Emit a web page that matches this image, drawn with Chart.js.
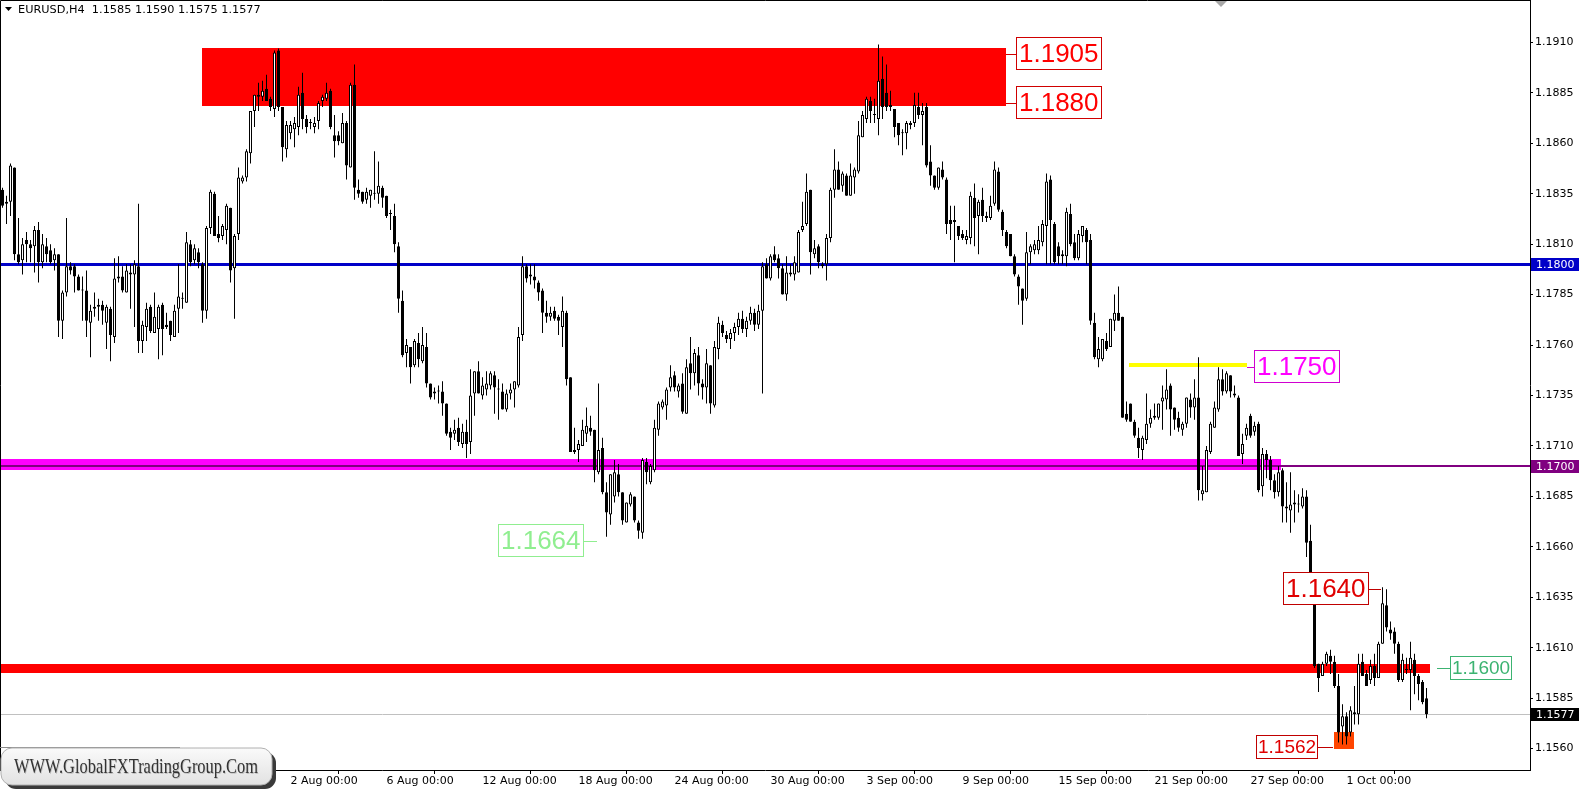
<!DOCTYPE html>
<html>
<head>
<meta charset="utf-8">
<title>EURUSD,H4</title>
<script src="https://cdn.jsdelivr.net/npm/chart.js@4.4.1/dist/chart.umd.min.js"></script>
<style>
  html, body { margin: 0; padding: 0; background: #fff; }
  canvas { display: block; }
</style>
</head>
<body>
<canvas id="chart" width="1582" height="792"></canvas>
<script>
"use strict"

// H4 bars, oldest first. Index 72 is 2 Aug 00:00, index 336 is 1 Oct 00:00.
const opens = [
  1.1837, 1.1830, 1.1831, 1.1848, 1.1805, 1.1802, 1.1812, 1.1810, 1.1809, 1.1817,
  1.1801, 1.1809, 1.1807, 1.1802, 1.1805, 1.1772, 1.1786, 1.1799, 1.1799, 1.1794,
  1.1787, 1.1787, 1.1771, 1.1778, 1.1780, 1.1780, 1.1771, 1.1778, 1.1764, 1.1794,
  1.1794, 1.1786, 1.1796, 1.1795, 1.1799, 1.1762, 1.1769, 1.1779, 1.1766, 1.1768,
  1.1780, 1.1770, 1.1772, 1.1764, 1.1778, 1.1783, 1.1781, 1.1810, 1.1802, 1.1806,
  1.1800, 1.1777, 1.1818, 1.1835, 1.1815, 1.1814, 1.1817, 1.1828, 1.1798, 1.1815,
  1.1841, 1.1843, 1.1855, 1.1876, 1.1883, 1.1883, 1.1887, 1.1882, 1.1877, 1.1906,
  1.1878, 1.1857, 1.1865, 1.1867, 1.1868, 1.1885, 1.1872, 1.1870, 1.1868, 1.1871,
  1.1881, 1.1882, 1.1886, 1.1864, 1.1864, 1.1860, 1.1870, 1.1848, 1.1889, 1.1837,
  1.1836, 1.1832, 1.1834, 1.1835, 1.1835, 1.1838, 1.1834, 1.1825, 1.1824, 1.1809,
  1.1782, 1.1756, 1.1759, 1.1750, 1.1761, 1.1752, 1.1759, 1.1741, 1.1736, 1.1737,
  1.1737, 1.1731, 1.1717, 1.1716, 1.1719, 1.1711, 1.1717, 1.1712, 1.1736, 1.1747,
  1.1735, 1.1738, 1.1740, 1.1745, 1.1738, 1.1737, 1.1728, 1.1736, 1.1738, 1.1740,
  1.1765, 1.1799, 1.1794, 1.1794, 1.1791, 1.1787, 1.1776, 1.1774, 1.1777, 1.1774,
  1.1769, 1.1776, 1.1744, 1.1707, 1.1708, 1.1710, 1.1716, 1.1719, 1.1718, 1.1697,
  1.1709, 1.1687, 1.1676, 1.1685, 1.1696, 1.1687, 1.1672, 1.1681, 1.1685, 1.1672,
  1.1667, 1.1702, 1.1692, 1.1698, 1.1718, 1.1729, 1.1730, 1.1739, 1.1745, 1.1737,
  1.1741, 1.1726, 1.1751, 1.1746, 1.1755, 1.1741, 1.1739, 1.1750, 1.1730, 1.1758,
  1.1770, 1.1765, 1.1763, 1.1766, 1.1769, 1.1773, 1.1768, 1.1772, 1.1776, 1.1770,
  1.1777, 1.1800, 1.1793, 1.1805, 1.1803, 1.1798, 1.1785, 1.1796, 1.1795, 1.1796,
  1.1817, 1.1820, 1.1837, 1.1805, 1.1809, 1.1800, 1.1800, 1.1813, 1.1837, 1.1847,
  1.1839, 1.1844, 1.1834, 1.1843, 1.1846, 1.1863, 1.1872, 1.1881, 1.1874, 1.1872,
  1.1892, 1.1885, 1.1879, 1.1877, 1.1870, 1.1865, 1.1865, 1.1869, 1.1870, 1.1878,
  1.1874, 1.1878, 1.1851, 1.1844, 1.1838, 1.1847, 1.1842, 1.1822, 1.1821, 1.1819,
  1.1815, 1.1812, 1.1813, 1.1833, 1.1824, 1.1832, 1.1823, 1.1823, 1.1830, 1.1846,
  1.1826, 1.1816, 1.1815, 1.1804, 1.1794, 1.1788, 1.1783, 1.1806, 1.1807, 1.1807,
  1.1811, 1.1819, 1.1842, 1.1820, 1.1809, 1.1804, 1.1804, 1.1825, 1.1811, 1.1803,
  1.1814, 1.1817, 1.1812, 1.1771, 1.1753, 1.1753, 1.1762, 1.1759, 1.1772, 1.1776,
  1.1774, 1.1726, 1.1731, 1.1722, 1.1714, 1.1708, 1.1713, 1.1721, 1.1724, 1.1724,
  1.1732, 1.1733, 1.1740, 1.1729, 1.1724, 1.1718, 1.1721, 1.1733, 1.1729, 1.1734,
  1.1686, 1.1687, 1.1707, 1.1719, 1.1728, 1.1743, 1.1737, 1.1745, 1.1736, 1.1734,
  1.1706, 1.1715, 1.1725, 1.1717, 1.1721, 1.1690, 1.1706, 1.1703, 1.1693, 1.1687,
  1.1698, 1.1680, 1.1678, 1.1681, 1.1681, 1.1680, 1.1685, 1.1663, 1.1645, 1.1602,
  1.1596, 1.1602, 1.1606, 1.1603, 1.1591, 1.1571, 1.1576, 1.1568, 1.1577, 1.1577,
  1.1603, 1.1597, 1.1594, 1.1601, 1.1595, 1.1612, 1.1631, 1.1619, 1.1618, 1.1612,
  1.1594, 1.1599, 1.1599, 1.1604, 1.1596, 1.1593, 1.1585
];

const highs = [
  1.1838, 1.1834, 1.1850, 1.1848, 1.1823, 1.1813, 1.1816, 1.1812, 1.1819, 1.1821,
  1.1815, 1.1813, 1.1810, 1.1808, 1.1805, 1.1787, 1.1823, 1.1801, 1.1800, 1.1795,
  1.1794, 1.1797, 1.1780, 1.1786, 1.1783, 1.1782, 1.1780, 1.1779, 1.1803, 1.1804,
  1.1799, 1.1800, 1.1800, 1.1802, 1.1830, 1.1772, 1.1781, 1.1780, 1.1786, 1.1780,
  1.1781, 1.1776, 1.1772, 1.1780, 1.1800, 1.1786, 1.1816, 1.1812, 1.1810, 1.1808,
  1.1801, 1.1819, 1.1837, 1.1836, 1.1824, 1.1820, 1.1830, 1.1828, 1.1815, 1.1848,
  1.1844, 1.1857, 1.1876, 1.1884, 1.1890, 1.1891, 1.1894, 1.1883, 1.1906, 1.1907,
  1.1878, 1.1871, 1.1871, 1.1873, 1.1888, 1.1895, 1.1874, 1.1872, 1.1873, 1.1881,
  1.1884, 1.1890, 1.1887, 1.1874, 1.1866, 1.1875, 1.1871, 1.1890, 1.1899, 1.1842,
  1.1836, 1.1838, 1.1837, 1.1856, 1.1851, 1.1839, 1.1834, 1.1827, 1.1830, 1.1811,
  1.1787, 1.1763, 1.1759, 1.1763, 1.1766, 1.1769, 1.1766, 1.1741, 1.1739, 1.1740,
  1.1742, 1.1731, 1.1719, 1.1723, 1.1724, 1.1721, 1.1723, 1.1748, 1.1747, 1.1752,
  1.1744, 1.1747, 1.1747, 1.1747, 1.1743, 1.1741, 1.1738, 1.1741, 1.1742, 1.1769,
  1.1804, 1.1800, 1.1800, 1.1800, 1.1792, 1.1788, 1.1782, 1.1779, 1.1779, 1.1775,
  1.1784, 1.1777, 1.1744, 1.1719, 1.1713, 1.1723, 1.1729, 1.1725, 1.1718, 1.1741,
  1.1714, 1.1692, 1.1696, 1.1703, 1.1701, 1.1687, 1.1682, 1.1687, 1.1685, 1.1673,
  1.1704, 1.1704, 1.1701, 1.1723, 1.1732, 1.1733, 1.1739, 1.1750, 1.1747, 1.1741,
  1.1746, 1.1753, 1.1764, 1.1758, 1.1759, 1.1743, 1.1758, 1.1750, 1.1762, 1.1774,
  1.1772, 1.1767, 1.1768, 1.1771, 1.1776, 1.1777, 1.1774, 1.1779, 1.1778, 1.1780,
  1.1801, 1.1803, 1.1805, 1.1809, 1.1805, 1.1800, 1.1804, 1.1800, 1.1804, 1.1817,
  1.1831, 1.1845, 1.1837, 1.1812, 1.1810, 1.1801, 1.1815, 1.1838, 1.1857, 1.1851,
  1.1846, 1.1845, 1.1850, 1.1848, 1.1871, 1.1876, 1.1883, 1.1883, 1.1882, 1.1909,
  1.1903, 1.1899, 1.1886, 1.1877, 1.1870, 1.1867, 1.1871, 1.1871, 1.1885, 1.1885,
  1.1880, 1.1880, 1.1859, 1.1844, 1.1848, 1.1851, 1.1843, 1.1829, 1.1829, 1.1819,
  1.1817, 1.1817, 1.1836, 1.1840, 1.1832, 1.1838, 1.1826, 1.1834, 1.1851, 1.1848,
  1.1827, 1.1817, 1.1815, 1.1805, 1.1795, 1.1788, 1.1816, 1.1810, 1.1812, 1.1819,
  1.1822, 1.1845, 1.1844, 1.1821, 1.1811, 1.1807, 1.1828, 1.1830, 1.1815, 1.1817,
  1.1819, 1.1818, 1.1815, 1.1776, 1.1764, 1.1763, 1.1766, 1.1773, 1.1785, 1.1789,
  1.1774, 1.1732, 1.1731, 1.1723, 1.1719, 1.1715, 1.1736, 1.1728, 1.1731, 1.1731,
  1.1740, 1.1748, 1.1741, 1.1729, 1.1727, 1.1722, 1.1734, 1.1736, 1.1743, 1.1754,
  1.1700, 1.1710, 1.1722, 1.1732, 1.1749, 1.1748, 1.1747, 1.1745, 1.1740, 1.1735,
  1.1716, 1.1721, 1.1726, 1.1722, 1.1722, 1.1709, 1.1708, 1.1705, 1.1696, 1.1700,
  1.1699, 1.1692, 1.1697, 1.1688, 1.1686, 1.1689, 1.1688, 1.1671, 1.1645, 1.1602,
  1.1603, 1.1608, 1.1609, 1.1606, 1.1597, 1.1582, 1.1578, 1.1581, 1.1591, 1.1607,
  1.1607, 1.1599, 1.1604, 1.1607, 1.1613, 1.1640, 1.1639, 1.1623, 1.1620, 1.1613,
  1.1607, 1.1605, 1.1613, 1.1607, 1.1597, 1.1594, 1.1590
];

const lows = [
  1.1828, 1.1820, 1.1824, 1.1802, 1.1800, 1.1795, 1.1801, 1.1801, 1.1796, 1.1791,
  1.1798, 1.1801, 1.1800, 1.1797, 1.1764, 1.1763, 1.1784, 1.1795, 1.1786, 1.1787,
  1.1772, 1.1764, 1.1754, 1.1774, 1.1772, 1.1770, 1.1758, 1.1752, 1.1761, 1.1791,
  1.1786, 1.1786, 1.1778, 1.1769, 1.1756, 1.1756, 1.1762, 1.1766, 1.1766, 1.1753,
  1.1755, 1.1768, 1.1762, 1.1764, 1.1766, 1.1778, 1.1781, 1.1799, 1.1800, 1.1798,
  1.1771, 1.1773, 1.1815, 1.1814, 1.1811, 1.1812, 1.1810, 1.1791, 1.1773, 1.1812,
  1.1840, 1.1841, 1.1850, 1.1868, 1.1876, 1.1881, 1.1881, 1.1876, 1.1873, 1.1876,
  1.1851, 1.1853, 1.1862, 1.1858, 1.1864, 1.1867, 1.1865, 1.1867, 1.1865, 1.1867,
  1.1878, 1.1881, 1.1867, 1.1853, 1.1859, 1.1860, 1.1842, 1.1848, 1.1832, 1.1833,
  1.1830, 1.1830, 1.1828, 1.1832, 1.1830, 1.1828, 1.1823, 1.1817, 1.1806, 1.1776,
  1.1754, 1.1749, 1.1741, 1.1749, 1.1749, 1.1751, 1.1739, 1.1733, 1.1733, 1.1731,
  1.1725, 1.1715, 1.1708, 1.1713, 1.1710, 1.1709, 1.1704, 1.1706, 1.1725, 1.1736,
  1.1733, 1.1735, 1.1738, 1.1726, 1.1723, 1.1728, 1.1727, 1.1733, 1.1729, 1.1739,
  1.1762, 1.1791, 1.1790, 1.1788, 1.1782, 1.1766, 1.1771, 1.1772, 1.1772, 1.1765,
  1.1759, 1.1740, 1.1707, 1.1706, 1.1702, 1.1710, 1.1712, 1.1715, 1.1692, 1.1696,
  1.1686, 1.1665, 1.1671, 1.1682, 1.1685, 1.1671, 1.1672, 1.1680, 1.1672, 1.1664,
  1.1664, 1.1691, 1.1691, 1.1697, 1.1715, 1.1728, 1.1723, 1.1737, 1.1737, 1.1734,
  1.1726, 1.1726, 1.1738, 1.1740, 1.1735, 1.1733, 1.1731, 1.1726, 1.1729, 1.1753,
  1.1764, 1.1761, 1.1758, 1.1762, 1.1765, 1.1766, 1.1764, 1.1770, 1.1767, 1.1768,
  1.1736, 1.1793, 1.1792, 1.1801, 1.1793, 1.1785, 1.1782, 1.1794, 1.1792, 1.1796,
  1.1816, 1.1819, 1.1795, 1.1803, 1.1798, 1.1798, 1.1792, 1.1811, 1.1833, 1.1837,
  1.1836, 1.1834, 1.1834, 1.1835, 1.1845, 1.1863, 1.1870, 1.1870, 1.1870, 1.1864,
  1.1872, 1.1876, 1.1876, 1.1863, 1.1859, 1.1854, 1.1857, 1.1867, 1.1868, 1.1872,
  1.1859, 1.1848, 1.1839, 1.1837, 1.1837, 1.1842, 1.1815, 1.1812, 1.1801, 1.1812,
  1.1812, 1.1810, 1.1810, 1.1809, 1.1805, 1.1821, 1.1821, 1.1822, 1.1829, 1.1826,
  1.1814, 1.1808, 1.1804, 1.1794, 1.1780, 1.1770, 1.1782, 1.1800, 1.1805, 1.1805,
  1.1809, 1.1800, 1.1800, 1.1800, 1.1800, 1.1800, 1.1799, 1.1809, 1.1802, 1.1802,
  1.1811, 1.1800, 1.1770, 1.1753, 1.1749, 1.1752, 1.1757, 1.1759, 1.1767, 1.1772,
  1.1724, 1.1722, 1.1722, 1.1714, 1.1704, 1.1703, 1.1711, 1.1719, 1.1723, 1.1723,
  1.1718, 1.1728, 1.1715, 1.1718, 1.1717, 1.1715, 1.1719, 1.1724, 1.1723, 1.1683,
  1.1683, 1.1687, 1.1706, 1.1719, 1.1727, 1.1735, 1.1736, 1.1734, 1.1734, 1.1705,
  1.1701, 1.1713, 1.1714, 1.1715, 1.1687, 1.1685, 1.1694, 1.1688, 1.1684, 1.1685,
  1.1672, 1.1672, 1.1667, 1.1672, 1.1677, 1.1679, 1.1655, 1.1640, 1.1600, 1.1588,
  1.1596, 1.1601, 1.1597, 1.1590, 1.1563, 1.1562, 1.1562, 1.1566, 1.1572, 1.1572,
  1.1596, 1.1591, 1.1592, 1.1591, 1.1595, 1.1612, 1.1618, 1.1614, 1.1607, 1.1593,
  1.1593, 1.1597, 1.1579, 1.1587, 1.1584, 1.1582, 1.1575
];

const closes = [
  1.1829, 1.1831, 1.1849, 1.1805, 1.1801, 1.1810, 1.1810, 1.1808, 1.1817, 1.1801,
  1.1810, 1.1805, 1.1801, 1.1805, 1.1772, 1.1786, 1.1799, 1.1797, 1.1794, 1.1787,
  1.1787, 1.1772, 1.1777, 1.1779, 1.1779, 1.1777, 1.1779, 1.1765, 1.1793, 1.1793,
  1.1787, 1.1797, 1.1795, 1.1800, 1.1762, 1.1770, 1.1778, 1.1767, 1.1774, 1.1779,
  1.1768, 1.1769, 1.1765, 1.1777, 1.1784, 1.1783, 1.1811, 1.1801, 1.1808, 1.1801,
  1.1777, 1.1818, 1.1836, 1.1814, 1.1813, 1.1819, 1.1829, 1.1797, 1.1814, 1.1843,
  1.1843, 1.1856, 1.1876, 1.1884, 1.1884, 1.1886, 1.1881, 1.1878, 1.1905, 1.1878,
  1.1858, 1.1869, 1.1869, 1.1870, 1.1884, 1.1872, 1.1868, 1.1870, 1.1870, 1.1880,
  1.1883, 1.1885, 1.1868, 1.1861, 1.1861, 1.1870, 1.1849, 1.1889, 1.1838, 1.1835,
  1.1831, 1.1836, 1.1837, 1.1835, 1.1839, 1.1833, 1.1824, 1.1825, 1.1810, 1.1783,
  1.1755, 1.1760, 1.1749, 1.1762, 1.1753, 1.1760, 1.1741, 1.1734, 1.1737, 1.1737,
  1.1731, 1.1716, 1.1714, 1.1718, 1.1712, 1.1717, 1.1711, 1.1735, 1.1747, 1.1736,
  1.1740, 1.1741, 1.1746, 1.1739, 1.1738, 1.1728, 1.1736, 1.1738, 1.1742, 1.1764,
  1.1799, 1.1793, 1.1795, 1.1792, 1.1786, 1.1776, 1.1774, 1.1776, 1.1773, 1.1772,
  1.1777, 1.1743, 1.1707, 1.1708, 1.1711, 1.1718, 1.1720, 1.1717, 1.1698, 1.1708,
  1.1687, 1.1677, 1.1696, 1.1697, 1.1687, 1.1673, 1.1682, 1.1686, 1.1673, 1.1668,
  1.1703, 1.1697, 1.1700, 1.1719, 1.1731, 1.1732, 1.1738, 1.1744, 1.1739, 1.1740,
  1.1727, 1.1749, 1.1746, 1.1756, 1.1741, 1.1739, 1.1751, 1.1731, 1.1759, 1.1771,
  1.1766, 1.1763, 1.1766, 1.1769, 1.1773, 1.1768, 1.1772, 1.1776, 1.1770, 1.1777,
  1.1799, 1.1793, 1.1804, 1.1802, 1.1798, 1.1785, 1.1796, 1.1795, 1.1801, 1.1816,
  1.1819, 1.1836, 1.1806, 1.1808, 1.1801, 1.1799, 1.1813, 1.1837, 1.1847, 1.1837,
  1.1845, 1.1834, 1.1844, 1.1847, 1.1864, 1.1874, 1.1882, 1.1876, 1.1874, 1.1891,
  1.1878, 1.1878, 1.1878, 1.1868, 1.1864, 1.1865, 1.1870, 1.1870, 1.1879, 1.1874,
  1.1876, 1.1849, 1.1844, 1.1838, 1.1848, 1.1843, 1.1820, 1.1820, 1.1822, 1.1814,
  1.1813, 1.1814, 1.1834, 1.1823, 1.1831, 1.1824, 1.1824, 1.1829, 1.1847, 1.1827,
  1.1817, 1.1809, 1.1804, 1.1795, 1.1789, 1.1782, 1.1806, 1.1809, 1.1810, 1.1812,
  1.1820, 1.1841, 1.1822, 1.1801, 1.1804, 1.1805, 1.1826, 1.1810, 1.1803, 1.1815,
  1.1819, 1.1811, 1.1772, 1.1754, 1.1758, 1.1763, 1.1758, 1.1773, 1.1776, 1.1772,
  1.1724, 1.1723, 1.1722, 1.1715, 1.1709, 1.1714, 1.1721, 1.1724, 1.1725, 1.1731,
  1.1734, 1.1738, 1.1728, 1.1723, 1.1719, 1.1721, 1.1734, 1.1729, 1.1734, 1.1688,
  1.1688, 1.1708, 1.1721, 1.1729, 1.1743, 1.1737, 1.1746, 1.1737, 1.1735, 1.1705,
  1.1711, 1.1719, 1.1715, 1.1720, 1.1688, 1.1706, 1.1703, 1.1693, 1.1687, 1.1697,
  1.1680, 1.1679, 1.1681, 1.1682, 1.1681, 1.1685, 1.1662, 1.1645, 1.1601, 1.1595,
  1.1602, 1.1607, 1.1603, 1.1591, 1.1568, 1.1576, 1.1566, 1.1579, 1.1578, 1.1602,
  1.1596, 1.1591, 1.1601, 1.1595, 1.1612, 1.1632, 1.1620, 1.1617, 1.1612, 1.1594,
  1.1604, 1.1599, 1.1605, 1.1596, 1.1592, 1.1583, 1.1577
];

// time axis: bar index of each label
const timeTickIndex = [72, 96, 120, 144, 168, 192, 216, 240, 264, 288, 312, 336];
const timeTickLabels = [
  '2 Aug 00:00', '6 Aug 00:00', '12 Aug 00:00', '18 Aug 00:00', '24 Aug 00:00', '30 Aug 00:00',
  '3 Sep 00:00', '9 Sep 00:00', '15 Sep 00:00', '21 Sep 00:00', '27 Sep 00:00', '1 Oct 00:00'
];
const priceTicks = [
  1.1560, 1.1585, 1.1610, 1.1635, 1.1660, 1.1685, 1.1710, 1.1735,
  1.1760, 1.1785, 1.1810, 1.1835, 1.1860, 1.1885, 1.1910
];

const symbolTitle = 'EURUSD,H4  1.1585 1.1590 1.1575 1.1577';
const siteName = 'WWW.GlobalFXTradingGroup.Com';

// visible window (bar slots and price range of the chart window)
const slotFirst = -0.625;
const slotLast = 381.875;
const priceLow = 1.15494;
const priceHigh = 1.19310;

// drawn objects, in bar index / price units
const zones = [
  { from: 49.9, to: 250.9, top: 1.19073, bottom: 1.18786, color: '#ff0000' },
  { from: -0.625, to: 319.6, top: 1.17035, bottom: 1.16981, color: '#ff00ff' },
  { from: -0.625, to: 356.9, top: 1.16020, bottom: 1.15977, color: '#ff0000' },
  { from: 332.9, to: 337.9, top: 1.15680, bottom: 1.15598, color: '#ff4500' }
];
const levels = [
  { price: 1.1800, from: -0.625, to: 381.875, color: '#0000c8', width: 3 },
  { price: 1.1700, from: -0.625, to: 381.875, color: '#800080', width: 2 },
  { price: 1.1750, from: 281.6, to: 311.1, color: '#ffff00', width: 4 },
  { price: 1.1577, from: -0.625, to: 381.875, color: '#c0c0c0', width: 1 }
];
const priceTags = [
  { text: '1.1905', at: 253.4, price: 1.19040, link: 250.9, size: 26, color: '#ff0000', edge: '#d00000' },
  { text: '1.1880', at: 253.4, price: 1.18799, link: 250.9, size: 26, color: '#ff0000', edge: '#d00000' },
  { text: '1.1750', at: 312.9, price: 1.17491, link: 311.1, size: 26, color: '#ff00ff', edge: '#d000d0' },
  { text: '1.1664', at: 123.9, price: 1.16631, link: 148.6, size: 26, color: '#90ee90', edge: '#90ee90' },
  { text: '1.1640', at: 320.1, price: 1.16393, link: 344.6, size: 26, color: '#e00000', edge: '#c00000' },
  { text: '1.1600', at: 361.9, price: 1.15999, link: 358.6, size: 19, color: '#3cb371', edge: '#3cb371' },
  { text: '1.1562', at: 313.4, price: 1.15610, link: 332.6, size: 19, color: '#e00000', edge: '#c00000' }
];
const axisTags = [
  { price: 1.1800, bg: '#0000c8' },
  { price: 1.1700, bg: '#800080' },
  { price: 1.1577, bg: '#000000' }
];

const bodies = opens.map((o, i) => ({ x: i, y: [o, closes[i]] }));
const wicks = lows.map((l, i) => ({ x: i, y: [l, highs[i]] }));

/**
 * Rounded rectangle path helper.
 */
function roundRectPath(ctx, x, y, w, h, r) {
  ctx.beginPath();
  ctx.moveTo(x + r, y);
  ctx.lineTo(x + w - r, y);
  ctx.arcTo(x + w, y, x + w, y + r, r);
  ctx.lineTo(x + w, y + h - r);
  ctx.arcTo(x + w, y + h, x + w - r, y + h, r);
  ctx.lineTo(x + r, y + h);
  ctx.arcTo(x, y + h, x, y + h - r, r);
  ctx.lineTo(x, y + r);
  ctx.arcTo(x, y, x + r, y, r);
  ctx.closePath();
}

/**
 * Zones and horizontal levels, drawn behind the candles.
 */
function drawObjects(chart) {
  const { ctx, chartArea: area, scales: { x, y } } = chart;
  ctx.save();
  ctx.beginPath();
  ctx.rect(area.left, area.top, area.width, area.height);
  ctx.clip();

  zones.forEach(z => {
    const x0 = Math.round(x.getPixelForValue(z.from));
    const x1 = Math.round(x.getPixelForValue(z.to));
    const y0 = Math.round(y.getPixelForValue(z.top));
    const y1 = Math.round(y.getPixelForValue(z.bottom));
    ctx.fillStyle = z.color;
    ctx.fillRect(x0, y0, x1 - x0, y1 - y0);
  });

  levels.forEach(l => {
    const py = Math.round(y.getPixelForValue(l.price)) + (l.width % 2 ? 0.5 : 0);
    ctx.strokeStyle = l.color;
    ctx.lineWidth = l.width;
    ctx.beginPath();
    ctx.moveTo(Math.round(x.getPixelForValue(l.from)), py);
    ctx.lineTo(Math.round(x.getPixelForValue(l.to)), py);
    ctx.stroke();
  });
  ctx.restore();
}

/**
 * Boxed price labels with their short link lines.
 */
function drawPriceTags(chart) {
  const { ctx, scales: { x, y } } = chart;
  ctx.save();
  priceTags.forEach(t => {
    ctx.font = `${t.size}px "Liberation Sans", Arial, sans-serif`;
    const pad = t.size > 20 ? 3 : 2;
    const w = Math.round(ctx.measureText(t.text).width) + pad * 2;
    const h = Math.round(t.size * 1.27);
    const bx = Math.round(x.getPixelForValue(t.at));
    const cy = Math.round(y.getPixelForValue(t.price));
    const by = cy - Math.round(h / 2);

    // link line
    const lx = Math.round(x.getPixelForValue(t.link));
    ctx.strokeStyle = t.edge;
    ctx.lineWidth = 1;
    ctx.beginPath();
    if (lx < bx) {
      ctx.moveTo(lx, cy + 0.5);
      ctx.lineTo(bx, cy + 0.5);
    } else {
      ctx.moveTo(bx + w, cy + 0.5);
      ctx.lineTo(lx, cy + 0.5);
    }
    ctx.stroke();

    ctx.fillStyle = '#ffffff';
    ctx.fillRect(bx, by, w, h);
    ctx.strokeRect(bx + 0.5, by + 0.5, w - 1, h - 1);

    ctx.fillStyle = t.color;
    ctx.textAlign = 'left';
    ctx.textBaseline = 'middle';
    ctx.fillText(t.text, bx + pad, cy + 1);
  });
  ctx.restore();
}

/**
 * Coloured price boxes on the right scale, frame, title and site badge.
 */
function drawChrome(chart) {
  const { ctx, chartArea: area, scales: { y } } = chart;
  ctx.save();

  // frame
  ctx.strokeStyle = '#000000';
  ctx.lineWidth = 1;
  ctx.beginPath();
  ctx.moveTo(0.5, area.bottom);
  ctx.lineTo(0.5, 0.5);
  ctx.lineTo(area.right, 0.5);
  ctx.stroke();

  // price boxes on the axis
  ctx.font = '11px "DejaVu Sans", sans-serif';
  ctx.textBaseline = 'middle';
  ctx.textAlign = 'left';
  axisTags.forEach(t => {
    const cy = Math.round(y.getPixelForValue(t.price));
    ctx.fillStyle = t.bg;
    ctx.fillRect(area.right + 1, cy - 6, 48, 13);
    ctx.fillStyle = '#ffffff';
    ctx.fillText(t.price.toFixed(4), area.right + 6, cy + 1);
  });

  // chart shift marker
  ctx.fillStyle = '#a8a8a8';
  ctx.beginPath();
  ctx.moveTo(1215, 1);
  ctx.lineTo(1227, 1);
  ctx.lineTo(1221, 7);
  ctx.closePath();
  ctx.fill();

  // title
  ctx.fillStyle = '#000000';
  ctx.beginPath();
  ctx.moveTo(5, 7);
  ctx.lineTo(12, 7);
  ctx.lineTo(8.5, 11);
  ctx.closePath();
  ctx.fill();
  ctx.font = '11.3px "DejaVu Sans", sans-serif';
  ctx.fillText(symbolTitle, 18, 10);

  // site badge
  const bx = 1, by = 748, bw = 271, bh = 37;
  ctx.fillStyle = '#8a8a8a';
  ctx.fillRect(0, by - 1, 180, 1);
  ctx.fillStyle = '#3a3a3a';
  roundRectPath(ctx, bx + 4, by + 4, bw, bh, 11);
  ctx.fill();
  const g = ctx.createLinearGradient(0, by, 0, by + bh);
  g.addColorStop(0, '#fafafa');
  g.addColorStop(1, '#e2e2e2');
  ctx.fillStyle = g;
  roundRectPath(ctx, bx, by, bw, bh, 11);
  ctx.fill();
  ctx.strokeStyle = '#b0b0b0';
  ctx.stroke();

  ctx.font = '22px "Liberation Serif", "Times New Roman", serif';
  const tw = ctx.measureText(siteName).width;
  const sx = 244 / tw;
  ctx.translate(14, by + 19);
  ctx.scale(sx, 1);
  ctx.textAlign = 'left';
  ctx.fillStyle = 'rgba(0,0,0,0.18)';
  ctx.fillText(siteName, 1, 1);
  ctx.fillStyle = '#333333';
  ctx.fillText(siteName, 0, 0);
  ctx.restore();
}

const overlay = {
  id: 'overlay',
  beforeDatasetsDraw(chart) { drawObjects(chart); },
  afterDatasetsDraw(chart) { drawPriceTags(chart); },
  afterDraw(chart) { drawChrome(chart); }
};

Chart.defaults.font.family = '"DejaVu Sans", sans-serif';
Chart.defaults.color = '#000000';

new Chart(document.getElementById('chart'), {
  type: 'bar',
  data: {
    datasets: [
      {
        label: 'body',
        data: bodies,
        grouped: false,
        barPercentage: 1,
        categoryPercentage: 1,
        maxBarThickness: 3,
        minBarLength: 1,
        inflateAmount: 0,
        borderSkipped: false,
        borderWidth: 1,
        borderColor: '#000000',
        backgroundColor: c => closes[c.dataIndex] >= opens[c.dataIndex] ? '#ffffff' : '#000000'
      },
      {
        label: 'wick',
        data: wicks,
        grouped: false,
        barPercentage: 1,
        categoryPercentage: 1,
        maxBarThickness: 1,
        inflateAmount: 0,
        borderWidth: 0,
        backgroundColor: '#000000'
      }
    ]
  },
  options: {
    responsive: false,
    animation: false,
    events: [],
    layout: { padding: 0 },
    plugins: { legend: { display: false }, tooltip: { enabled: false } },
    scales: {
      x: {
        type: 'linear',
        min: slotFirst,
        max: slotLast,
        offset: false,
        afterBuildTicks: s => { s.ticks = timeTickIndex.map(v => ({ value: v })); },
        afterFit: s => { s.height = 22; s.paddingLeft = 0; s.paddingRight = 0; },
        grid: { drawOnChartArea: false, tickLength: 4, color: '#000000' },
        border: { display: true, color: '#000000' },
        ticks: {
          autoSkip: false,
          maxRotation: 0,
          minRotation: 0,
          align: 'start',
          padding: 1,
          font: { size: 11 },
          callback: (v, i) => timeTickLabels[i]
        }
      },
      y: {
        type: 'linear',
        position: 'right',
        min: priceLow,
        max: priceHigh,
        afterBuildTicks: s => { s.ticks = priceTicks.map(v => ({ value: v })); },
        afterFit: s => { s.width = 52; s.paddingTop = 0; s.paddingBottom = 0; },
        grid: { drawOnChartArea: false, tickLength: 3, color: '#000000' },
        border: { display: true, color: '#000000' },
        ticks: {
          padding: 2,
          font: { size: 11 },
          callback: v => v.toFixed(4)
        }
      }
    }
  },
  plugins: [overlay]
});
</script>
</body>
</html>
